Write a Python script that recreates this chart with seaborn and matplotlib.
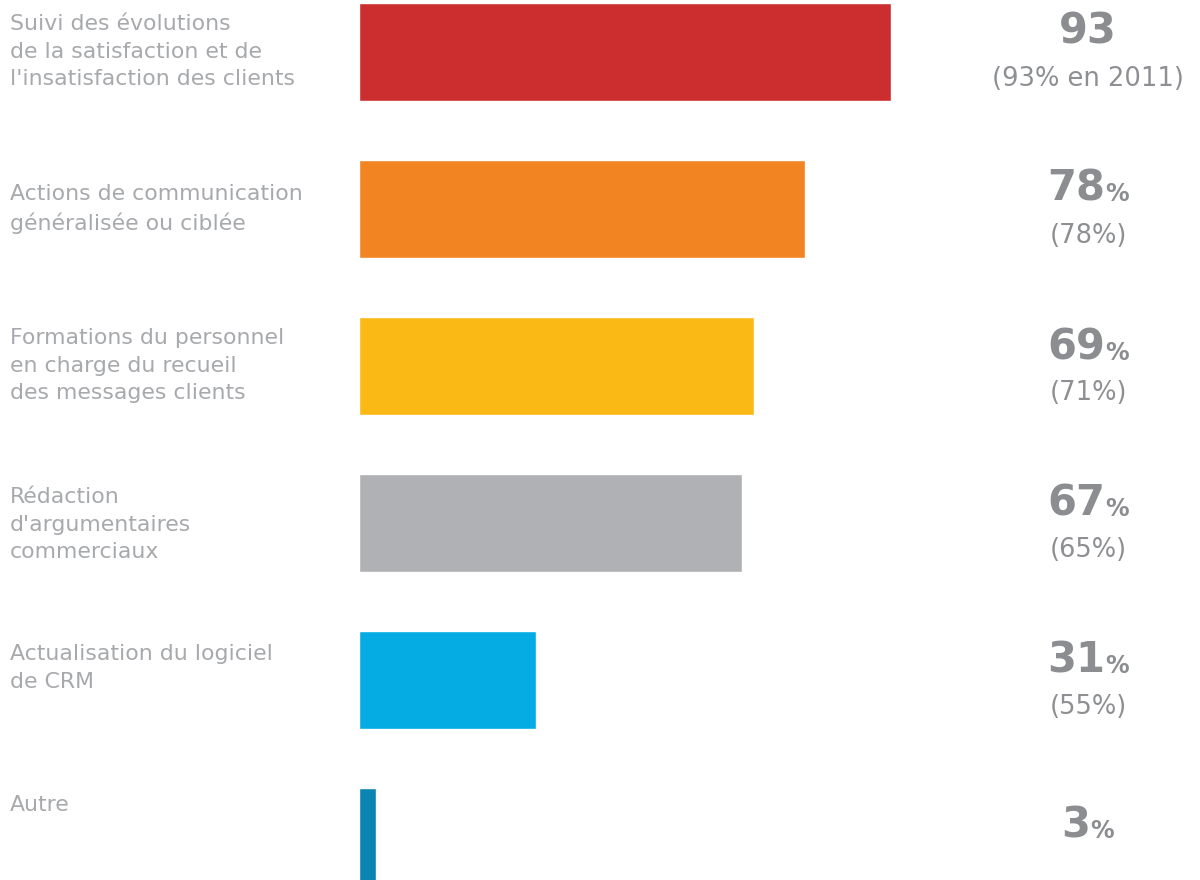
import matplotlib
matplotlib.use("Agg")
import matplotlib.pyplot as plt
import seaborn as sns
import pandas as pd
from matplotlib.offsetbox import TextArea, HPacker, AnnotationBbox
from matplotlib.transforms import blended_transform_factory

categories = [
    "Suivi des évolutions\nde la satisfaction et de\nl'insatisfaction des clients",
    "Actions de communication\ngénéralisée ou ciblée",
    "Formations du personnel\nen charge du recueil\ndes messages clients",
    "Rédaction\nd'argumentaires\ncommerciaux",
    "Actualisation du logiciel\nde CRM",
    "Autre",
]
values = [93, 78, 69, 67, 31, 3]
value_suffix = ["", "%", "%", "%", "%", "%"]
previous_labels = ["(93% en 2011)", "(78%)", "(71%)", "(65%)", "(55%)", ""]
colors = ["#cc2d2f", "#f28422", "#fbb916", "#b0b1b4", "#05abe3", "#0a84b0"]

sns.set_style("white")
plt.rcParams["font.family"] = ["DejaVu Sans"]

fig = plt.figure(figsize=(12, 8.8), dpi=100)
ax = fig.add_axes([359 / 1200, 0, 841 / 1200, 1])

df = pd.DataFrame({"cat": categories, "val": values})
sns.barplot(data=df, y="cat", x="val", hue="cat", palette=colors,
            order=categories, hue_order=categories, orient="h",
            width=0.62, legend=False, ax=ax, saturation=1)

ax.set_xlim(0, 147)
ax.set_ylim(5.274, -0.331)
ax.axis("off")

px = 157.0  # pixels per category unit
label_offsets = [0, 0, 0, 2, -12, -32]
trans = blended_transform_factory(fig.transFigure, ax.transData)
for i, cat in enumerate(categories):
    ax.text(10 / 1200, i + label_offsets[i] / px, cat, transform=trans,
            ha="left", va="center", fontsize=15.8, color="#a7a9ac",
            linespacing=1.47)

num_offsets = [-20, -20, -18, -19, -19, -11]
xc = 1088 / 1200
for i, v in enumerate(values):
    parts = [TextArea(str(v), textprops=dict(fontsize=30, fontweight="heavy",
                                             color="#8b8d90"))]
    if value_suffix[i]:
        parts.append(TextArea(value_suffix[i],
                              textprops=dict(fontsize=17, fontweight="heavy",
                                             color="#8b8d90")))
    box = HPacker(children=parts, align="baseline", pad=0, sep=0)
    ab = AnnotationBbox(box, (xc, i + num_offsets[i] / px),
                        xycoords=trans, box_alignment=(0.5, 0.5),
                        frameon=False, pad=0)
    ax.add_artist(ab)
    if previous_labels[i]:
        ax.text(xc, i + 27 / px, previous_labels[i], transform=trans,
                ha="center", va="center", fontsize=18.5, color="#8d8f92")

fig.savefig("out.png", dpi=100)
